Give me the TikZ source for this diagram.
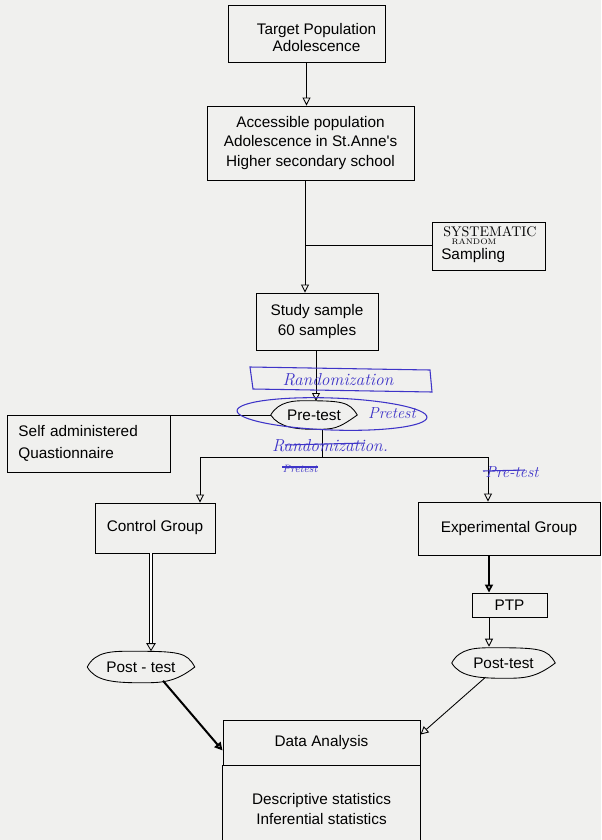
\documentclass[tikz,border=0pt]{standalone}
\usepackage{fontspec}
\newfontfamily\arial{Liberation Sans}
\usetikzlibrary{arrows.meta,calc}
\definecolor{ink}{RGB}{62,52,200}
\definecolor{paper}{RGB}{240,240,238}
\tikzset{
  box/.style={draw, line width=0.7pt, align=center, inner sep=0pt, font=\arial\fontsize{11.5}{14.5}\selectfont},
  lensnode/.style={inner sep=0pt, align=center, font=\arial\fontsize{11.5}{14}\selectfont},
  conn/.style={line width=0.65pt},
  arr/.style={conn, -{Triangle[open,length=6pt,width=6pt]}},
  hand/.style={text=ink, font=\itshape\fontsize{13}{14}\selectfont},
  handline/.style={draw=ink, line width=0.8pt},
}
\newcommand\lensshape[1]{%
  \draw[line width=0.65pt] (#1.west)
    .. controls ($(#1.north west)+(8,0)$) and ($(#1.north west)+(25,0)$) .. ($(#1.north)+(-10,0)$)
    .. controls ($(#1.north east)+(-15,0)$) and ($(#1.north east)+(-8,1)$) .. (#1.east)
    .. controls ($(#1.south east)+(-20,0)$) and ($(#1.south)+(20,0)$) .. ($(#1.south)+(0,0)$)
    .. controls ($(#1.south west)+(25,0)$) and ($(#1.south west)+(8,-2)$) .. (#1.west);}
\begin{document}
\begin{tikzpicture}[x=0.75pt,y=-0.75pt]
\fill[paper] (0,0) rectangle (601,840);
\useasboundingbox (0,0) rectangle (601,840);

\node[box, minimum width=157*0.75pt, minimum height=57*0.75pt] (target) at (306.5,33.5) {\rule{0pt}{14pt}\hspace*{15pt}Target Population\\[-1.5pt]\hspace*{15pt}Adolescence};
\node[box, minimum width=207*0.75pt, minimum height=74*0.75pt] (access) at (310.5,143) {Accessible population\\Adolescence in St.Anne's\\Higher secondary school};
\node[box, minimum width=113*0.75pt, minimum height=48*0.75pt] (sampling) at (488.5,246) {};
\node[anchor=base west, inner sep=0pt, font=\arial\fontsize{11.5}{14}\selectfont] (samplingtxt) at (441,259) {Sampling};
\node[box, minimum width=122*0.75pt, minimum height=57*0.75pt] (study) at (317,321.5) {Study sample\\60 samples};
\node[lensnode, minimum width=86*0.75pt, minimum height=28*0.75pt] (pretest) at (314,415) {Pre-test};
\node[box, minimum width=163*0.75pt, minimum height=57*0.75pt, align=left, text width=140*0.75pt, font=\arial\fontsize{11.5}{16.5}\selectfont] (selfq) at (88.5,443.5) {Self administered\\Quastionnaire};
\node[box, minimum width=120*0.75pt, minimum height=50*0.75pt] (ctrl) at (155,528) {Control Group};
\node[box, minimum width=182*0.75pt, minimum height=53*0.75pt] (exp) at (509,528.5) {Experimental Group};
\node[box, minimum width=75*0.75pt, minimum height=24*0.75pt] (ptp) at (509.5,605) {PTP};
\node[lensnode, minimum width=107*0.75pt, minimum height=31*0.75pt] (postc) at (141,667) {Post - test};
\node[lensnode, minimum width=103*0.75pt, minimum height=30*0.75pt] (poste) at (503.5,663) {Post-test};
\node[box, minimum width=197*0.75pt, minimum height=45*0.75pt] (da) at (321.5,742.5) {Data Analysis};
\node[align=center, font=\arial\fontsize{11.5}{14.5}\selectfont] (stats) at (321.5,809) {Descriptive statistics\\Inferential statistics};
\draw[line width=0.7pt] (da.south west) -- ++(0,78);
\draw[line width=0.7pt] (da.south east) -- ++(0,78);

\lensshape{pretest}
\lensshape{postc}
\lensshape{poste}

% connectors
\draw[arr] (target.south) -- (target.south |- access.north);
\coordinate (j1) at (305,245);
\draw[conn] (access.south -| j1) -- (j1);
\draw[arr] (j1) -- (j1 |- study.north);
\draw[conn] (j1) -- (j1 -| sampling.west);
\draw[arr] (study.south -| 316,0) -- (316,401);
\draw[conn] (selfq.east |- pretest.west) -- (pretest.west);
\coordinate (j2) at (322,457);
\coordinate (jl) at (200,457);
\coordinate (jr) at (488,457);
\draw[conn] (pretest.south -| j2) -- (j2);
\draw[conn] (jl) -- (jr);
\draw[arr] (jl) -- (jl |- ctrl.north);
\draw[arr] (jr) -- (jr |- exp.north);
\draw[line width=0.6pt, double, double distance=1.6pt, -{Triangle[open,length=6pt,width=7pt]}] ([xshift=-3pt]ctrl.south) -- ([xshift=-3pt]ctrl.south |- postc.north);
\coordinate (cx) at (489,0);
\draw[arr, line width=1.3pt] (exp.south -| cx) -- (ptp.north -| cx);
\draw[arr] (ptp.south -| cx) -- ($(poste.north -| cx)+(0,-1)$);
\draw[arr, line width=1.5pt] ($(postc.south)+(22,-2)$) -- ($(da.south west)+(0,-15)$);
\draw[arr] ($(poste.south)+(-18,-1)$) -- ($(da.north east)+(0,15)$);

% handwritten annotations
\node[font=\fontsize{10.5}{11}\selectfont, inner sep=0pt] (syst) at (490,232) {SYSTEMATIC};
\node[font=\fontsize{6}{6}\selectfont, inner sep=0pt] (rand) at (474,241.5) {RANDOM};
\draw[handline] (250,367) -- (430,370) -- (432,392) -- (253,389) -- cycle;
\node[hand] (randz) at (338,380) {Randomization};
\draw[handline, rotate around={-2:(332,414)}] (332,414) ellipse [x radius=95, y radius=16];
\node[hand, font=\itshape\fontsize{12}{12}\selectfont] (pret) at (392,413) {Pretest};
\node[hand] (randz2) at (330,446) {Randomization.};
\draw[handline] (285,445) -- (365,443);
\node[hand, font=\itshape\fontsize{8}{8}\selectfont] (pret2) at (300,469) {Pretest};
\draw[handline] (282,467) -- (318,467);
\node[hand, font=\itshape\fontsize{12}{12}\selectfont] (pret3) at (512,472) {Pre-test};
\draw[handline] (483,471) -- (525,470);
\end{tikzpicture}
\end{document}
